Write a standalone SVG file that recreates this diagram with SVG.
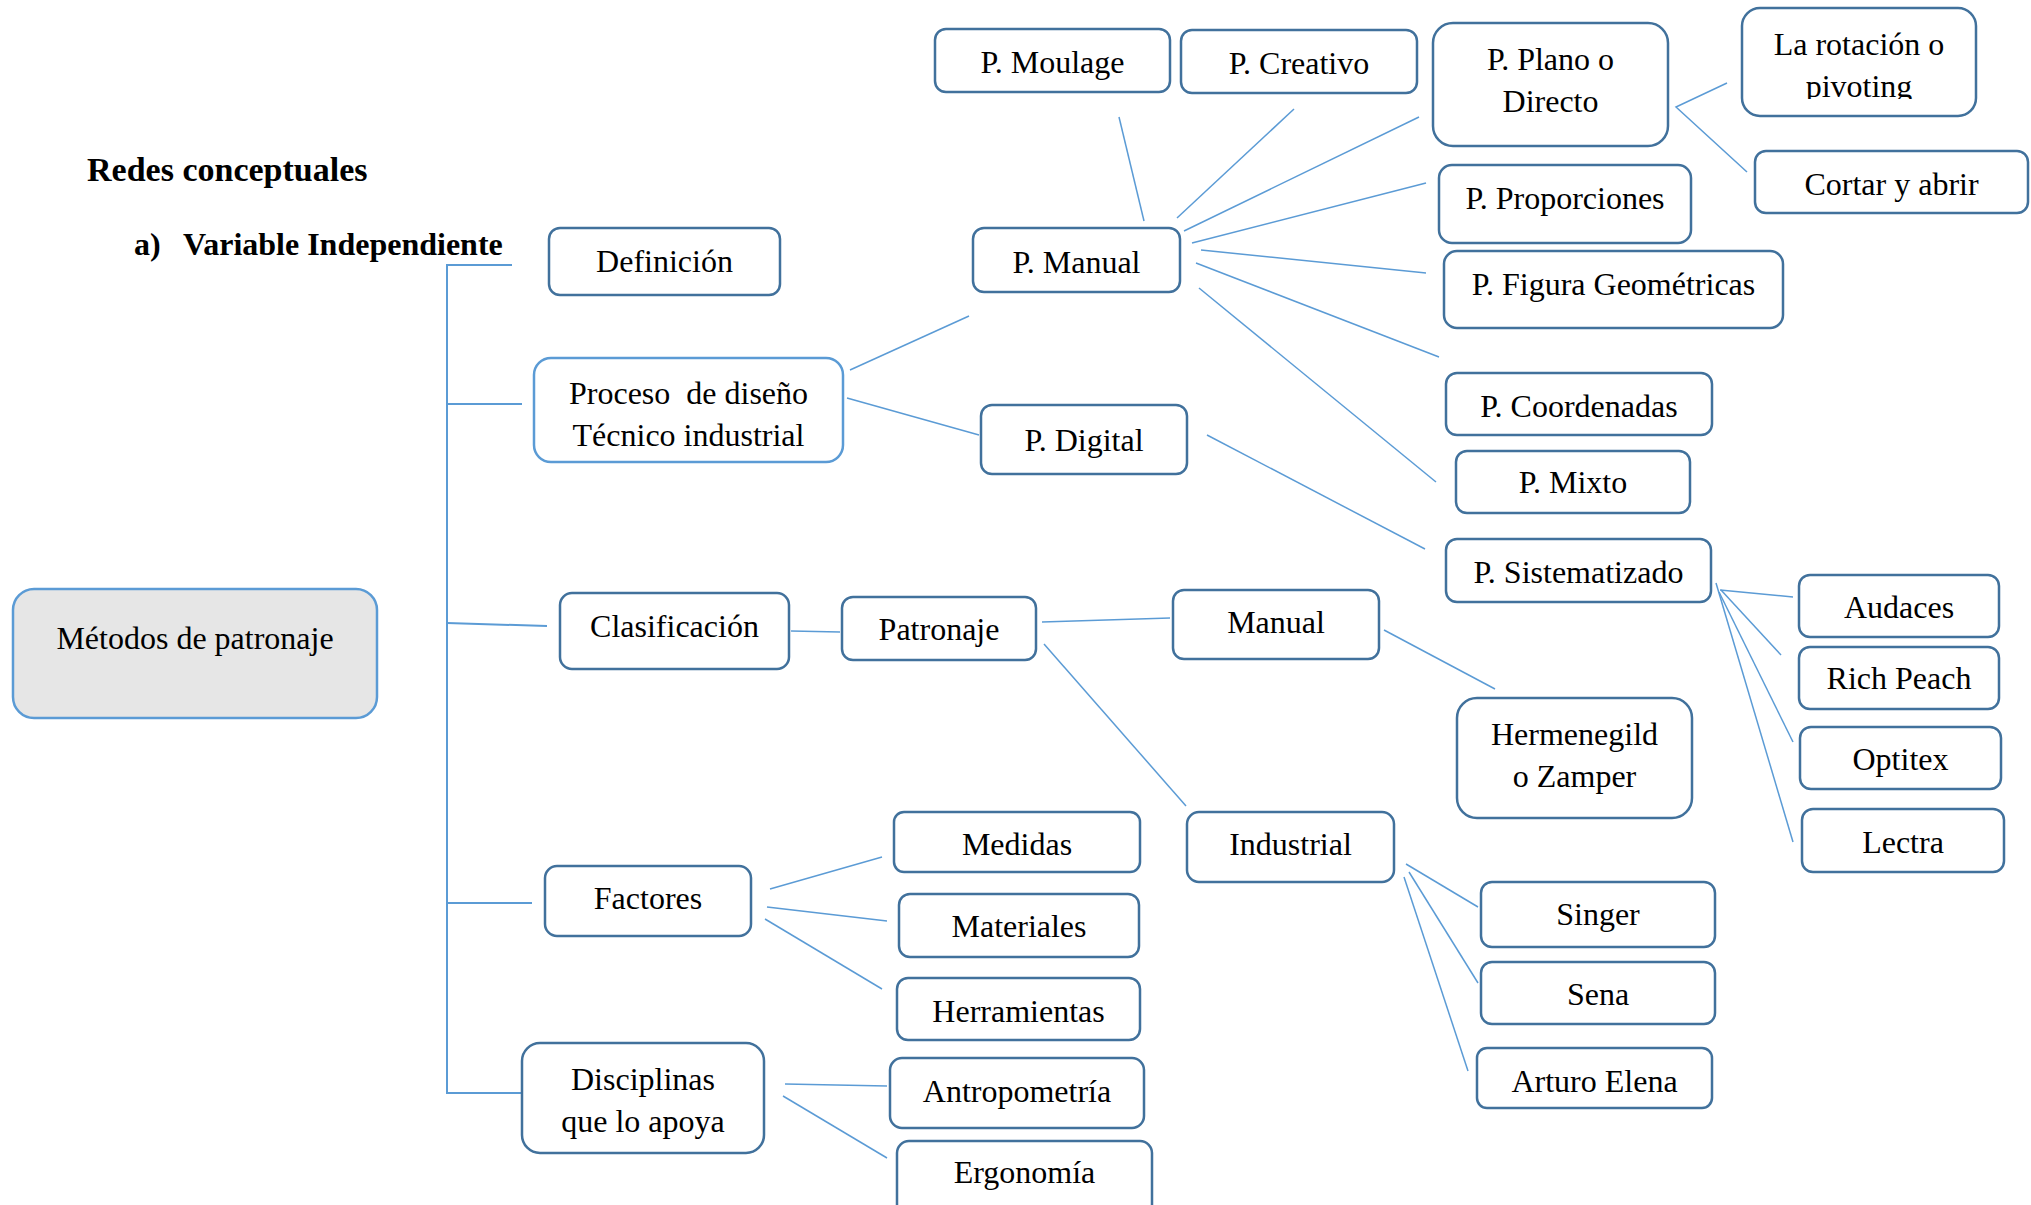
<svg xmlns="http://www.w3.org/2000/svg" width="2031" height="1205" viewBox="0 0 2031 1205">
<style>
.n{fill:#fff;stroke:#41719c;stroke-width:2.5}
.nl{fill:#fff;stroke:#5b9bd5;stroke-width:2.5}
.t{font-family:"Liberation Serif","Times New Roman",serif;font-size:32px;fill:#000;text-anchor:middle}
.h{font-family:"Liberation Serif","Times New Roman",serif;font-weight:bold;fill:#000}
.c{stroke:#5b9bd5;stroke-width:1.5;fill:none}
.b{stroke:#5b9bd5;stroke-width:2;fill:none}
</style>
<defs>
<clipPath id="clipPiv"><rect x="1742" y="0" width="234" height="99"/></clipPath>
</defs>
<rect width="2031" height="1205" fill="#fff"/>
<g id="titles">
<text class="h" x="87" y="181" font-size="34">Redes conceptuales</text>
<text class="h" x="134" y="255" font-size="32">a)</text>
<text class="h" x="183" y="255" font-size="32">Variable Independiente</text>
</g>
<g id="connectors">
<polyline class="b" points="512,265 447,265 447,1093 522,1093"/>
<line class="b" x1="447" y1="404" x2="522" y2="404"/>
<line class="b" x1="447" y1="623" x2="547" y2="626"/>
<line class="b" x1="447" y1="903" x2="532" y2="903"/>
<line class="c" x1="850" y1="370" x2="969" y2="316"/>
<line class="c" x1="847" y1="398" x2="979" y2="435"/>
<line class="c" x1="1144" y1="221" x2="1119" y2="117"/>
<line class="c" x1="1177" y1="218" x2="1294" y2="109"/>
<line class="c" x1="1184" y1="231" x2="1419" y2="117"/>
<line class="c" x1="1192" y1="243" x2="1426" y2="183"/>
<line class="c" x1="1201" y1="250" x2="1426" y2="273"/>
<line class="c" x1="1196" y1="263" x2="1439" y2="357"/>
<line class="c" x1="1199" y1="288" x2="1436" y2="482"/>
<line class="c" x1="1207" y1="435" x2="1425" y2="549"/>
<polyline class="c" points="1727,83 1676,107 1747,172"/>
<line class="c" x1="791" y1="631" x2="840" y2="632"/>
<line class="c" x1="1042" y1="622" x2="1170" y2="618"/>
<line class="c" x1="1044" y1="644" x2="1186" y2="806"/>
<line class="c" x1="1384" y1="630" x2="1495" y2="689"/>
<line class="c" x1="770" y1="889" x2="882" y2="857"/>
<line class="c" x1="767" y1="907" x2="887" y2="921"/>
<line class="c" x1="765" y1="919" x2="882" y2="989"/>
<line class="c" x1="785" y1="1084" x2="887" y2="1086"/>
<line class="c" x1="783" y1="1096" x2="887" y2="1158"/>
<line class="c" x1="1720" y1="590" x2="1793" y2="597"/>
<line class="c" x1="1721" y1="590" x2="1781" y2="655"/>
<line class="c" x1="1719" y1="592" x2="1793" y2="742"/>
<line class="c" x1="1716" y1="583" x2="1793" y2="842"/>
<line class="c" x1="1406" y1="864" x2="1478" y2="907"/>
<line class="c" x1="1409" y1="872" x2="1478" y2="983"/>
<line class="c" x1="1404" y1="877" x2="1468" y2="1071"/>
</g>
<g id="metodos"><rect class="nl" x="13" y="589" width="364" height="129" rx="21" fill="#e6e6e6" style="fill:#e6e6e6"/><text class="t" x="195" y="649">Métodos de patronaje</text></g>
<g id="definicion"><rect class="n" x="549" y="228" width="231" height="67" rx="11"/><text class="t" x="664.5" y="272">Definición</text></g>
<g id="proceso"><rect class="nl" x="534" y="358" width="309" height="104" rx="17"/><text class="t" x="688.5" y="404" xml:space="preserve">Proceso  de diseño</text><text class="t" x="688.5" y="446">Técnico industrial</text></g>
<g id="clasificacion"><rect class="n" x="560" y="593" width="229" height="76" rx="12"/><text class="t" x="674.5" y="637">Clasificación</text></g>
<g id="factores"><rect class="n" x="545" y="866" width="206" height="70" rx="12"/><text class="t" x="648" y="909">Factores</text></g>
<g id="disciplinas"><rect class="n" x="522" y="1043" width="242" height="110" rx="18"/><text class="t" x="643" y="1090">Disciplinas</text><text class="t" x="643" y="1132">que lo apoya</text></g>
<g id="p-manual"><rect class="n" x="973" y="228" width="207" height="64" rx="11"/><text class="t" x="1076.5" y="273">P. Manual</text></g>
<g id="p-digital"><rect class="n" x="981" y="405" width="206" height="69" rx="11"/><text class="t" x="1084" y="451">P. Digital</text></g>
<g id="patronaje"><rect class="n" x="842" y="597" width="194" height="63" rx="11"/><text class="t" x="939" y="640">Patronaje</text></g>
<g id="medidas"><rect class="n" x="894" y="812" width="246" height="60" rx="10"/><text class="t" x="1017" y="855">Medidas</text></g>
<g id="materiales"><rect class="n" x="899" y="894" width="240" height="63" rx="11"/><text class="t" x="1019" y="937">Materiales</text></g>
<g id="herramientas"><rect class="n" x="897" y="978" width="243" height="62" rx="11"/><text class="t" x="1018.5" y="1022">Herramientas</text></g>
<g id="antropometria"><rect class="n" x="890" y="1058" width="254" height="70" rx="12"/><text class="t" x="1017" y="1102">Antropometría</text></g>
<g id="ergonomia"><rect class="n" x="897" y="1141" width="255" height="80" rx="12"/><text class="t" x="1024.5" y="1183">Ergonomía</text></g>
<g id="p-moulage"><rect class="n" x="935" y="29" width="235" height="63" rx="11"/><text class="t" x="1052.5" y="73">P. Moulage</text></g>
<g id="p-creativo"><rect class="n" x="1181" y="30" width="236" height="63" rx="11"/><text class="t" x="1299" y="74">P. Creativo</text></g>
<g id="manual"><rect class="n" x="1173" y="590" width="206" height="69" rx="11"/><text class="t" x="1276" y="633">Manual</text></g>
<g id="industrial"><rect class="n" x="1187" y="812" width="207" height="70" rx="12"/><text class="t" x="1290.5" y="855">Industrial</text></g>
<g id="p-plano"><rect class="n" x="1433" y="23" width="235" height="123" rx="20"/><text class="t" x="1550.5" y="70">P. Plano o</text><text class="t" x="1550.5" y="112">Directo</text></g>
<g id="p-proporciones"><rect class="n" x="1439" y="165" width="252" height="78" rx="13"/><text class="t" x="1565" y="209">P. Proporciones</text></g>
<g id="p-figura"><rect class="n" x="1444" y="251" width="339" height="77" rx="13"/><text class="t" x="1613.5" y="295">P. Figura Geométricas</text></g>
<g id="p-coordenadas"><rect class="n" x="1446" y="373" width="266" height="62" rx="11"/><text class="t" x="1579" y="417">P. Coordenadas</text></g>
<g id="p-mixto"><rect class="n" x="1456" y="451" width="234" height="62" rx="11"/><text class="t" x="1573" y="493">P. Mixto</text></g>
<g id="p-sistematizado"><rect class="n" x="1446" y="539" width="265" height="63" rx="11"/><text class="t" x="1578.5" y="583">P. Sistematizado</text></g>
<g id="hermenegild"><rect class="n" x="1457" y="698" width="235" height="120" rx="20"/><text class="t" x="1574.5" y="745">Hermenegild</text><text class="t" x="1574.5" y="787">o Zamper</text></g>
<g id="singer"><rect class="n" x="1481" y="882" width="234" height="65" rx="11"/><text class="t" x="1598" y="925">Singer</text></g>
<g id="sena"><rect class="n" x="1481" y="962" width="234" height="62" rx="11"/><text class="t" x="1598" y="1005">Sena</text></g>
<g id="arturo-elena"><rect class="n" x="1477" y="1048" width="235" height="60" rx="10"/><text class="t" x="1594.5" y="1092">Arturo Elena</text></g>
<g id="rotacion"><rect class="n" x="1742" y="8" width="234" height="108" rx="18"/><text class="t" x="1859" y="55">La rotación o</text><text class="t" x="1859" y="97" clip-path="url(#clipPiv)">pivoting</text></g>
<g id="cortar"><rect class="n" x="1755" y="151" width="273" height="62" rx="11"/><text class="t" x="1891.5" y="195">Cortar y abrir</text></g>
<g id="audaces"><rect class="n" x="1799" y="575" width="200" height="62" rx="11"/><text class="t" x="1899" y="618">Audaces</text></g>
<g id="rich-peach"><rect class="n" x="1799" y="647" width="200" height="62" rx="11"/><text class="t" x="1899" y="689">Rich Peach</text></g>
<g id="optitex"><rect class="n" x="1800" y="727" width="201" height="62" rx="11"/><text class="t" x="1900.5" y="770">Optitex</text></g>
<g id="lectra"><rect class="n" x="1802" y="809" width="202" height="63" rx="11"/><text class="t" x="1903" y="853">Lectra</text></g>
</svg>
